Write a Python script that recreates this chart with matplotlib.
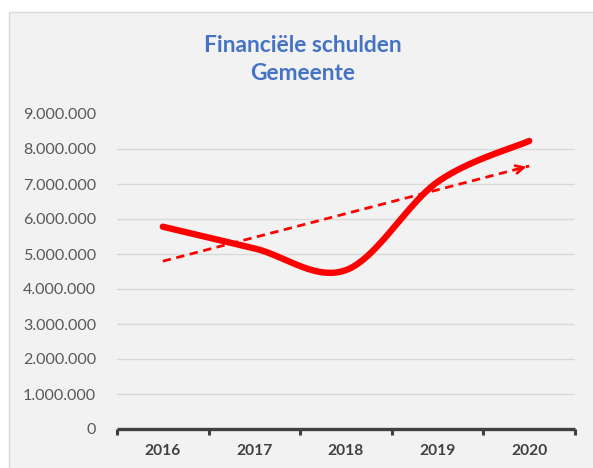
import numpy as np
import matplotlib.pyplot as plt
from matplotlib.patches import Rectangle
from matplotlib.ticker import FuncFormatter, FixedLocator

# Financiële schulden per jaar (geschat uit de grafiek)
years = ["2016", "2017", "2018", "2019", "2020"]
debt = [5780000, 5160000, 4540000, 7060000, 8230000]
y_ticks = [0, 1000000, 2000000, 3000000, 4000000, 5000000, 6000000, 7000000, 8000000, 9000000]


def excel_smooth(xs, ys, steps=40):
    # Excel-achtige gladde lijn: Bezier segmenten met 1/6 raaklijnen
    pts = np.column_stack([xs, ys]).astype(float)
    n = len(pts)
    out = []
    for i in range(n - 1):
        p0 = pts[max(i - 1, 0)]
        p1 = pts[i]
        p2 = pts[i + 1]
        p3 = pts[min(i + 2, n - 1)]
        c1 = p1 + (p2 - p0) / 6
        c2 = p2 - (p3 - p1) / 6
        t = np.linspace(0, 1, steps)[:, None]
        seg = ((1 - t) ** 3) * p1 + 3 * ((1 - t) ** 2) * t * c1 + 3 * (1 - t) * t ** 2 * c2 + t ** 3 * p2
        out.append(seg if i == 0 else seg[1:])
    out = np.vstack(out)
    return out[:, 0], out[:, 1]


plt.rcParams['font.family'] = ['Lato', 'DejaVu Sans']

fig = plt.figure(figsize=(5.93, 4.68), dpi=100)
fig.patch.set_facecolor('white')

# grijze grafiekachtergrond met rand
bg = Rectangle((9 / 593, -0.05), 1.1, 1 - 12 / 468 + 0.05, transform=fig.transFigure,
               facecolor='#f2f2f2', edgecolor='#d9d9d9', lw=1, zorder=-10)
fig.patches.append(bg)

ax = fig.add_axes([117 / 593, 39 / 468, 458 / 593, 315 / 468])
ax.set_facecolor('none')
ax.set_zorder(2)

x = np.arange(len(years))
sx, sy = excel_smooth(x, debt)
ax.plot(sx, sy, color='#ff0000', lw=4.6, solid_capstyle='round', zorder=3)

# lineaire trendlijn met pijl
coef = np.polyfit(x, debt, 1)
tx = np.array([x[0], x[-1]])
ty = np.polyval(coef, tx)
ax.plot(tx, ty, color='#ff0000', lw=2, linestyle=(0, (3, 2)), zorder=4)
ax.annotate('', xy=(tx[1], ty[1]), xytext=(tx[1] - 0.12, ty[1] - 0.12 * coef[0]),
            arrowprops=dict(arrowstyle='->', color='#ff0000', lw=2, mutation_scale=14), zorder=4)

ax.set_xlim(-0.5, len(years) - 0.5)
ax.set_ylim(0, 9000000)

for v in y_ticks[1:-1]:
    ax.axhline(v, color='#d9d9d9', lw=1, zorder=1)

ax.yaxis.set_major_locator(FixedLocator(y_ticks))
ax.yaxis.set_major_formatter(FuncFormatter(lambda v, p: f"{int(v):,}".replace(",", ".")))
ax.tick_params(axis='y', length=0, pad=15, labelsize=11.6, labelcolor='#595959')

ax.set_xticks(x)
ax.set_xticklabels(years, fontweight='bold')
ax.set_xticks(np.arange(len(years) + 1) - 0.5, minor=True)
ax.tick_params(axis='x', which='major', length=0, pad=11, labelsize=11.2, labelcolor='#404040')
ax.tick_params(axis='x', which='minor', length=4, width=2.2, color='#404040')

for s in ['top', 'right', 'left']:
    ax.spines[s].set_visible(False)
ax.spines['bottom'].set_color('#404040')
ax.spines['bottom'].set_linewidth(2.4)
ax.spines['bottom'].set_capstyle('butt')

fig.text(0.511, 1 - 45 / 468, "Financiële schulden", ha='center', va='center',
         color='#4472c4', fontsize=16.4, fontweight='bold')
fig.text(0.511, 1 - 73 / 468, "Gemeente", ha='center', va='center',
         color='#4472c4', fontsize=16.4, fontweight='bold')

fig.savefig('out.png', dpi=100)
